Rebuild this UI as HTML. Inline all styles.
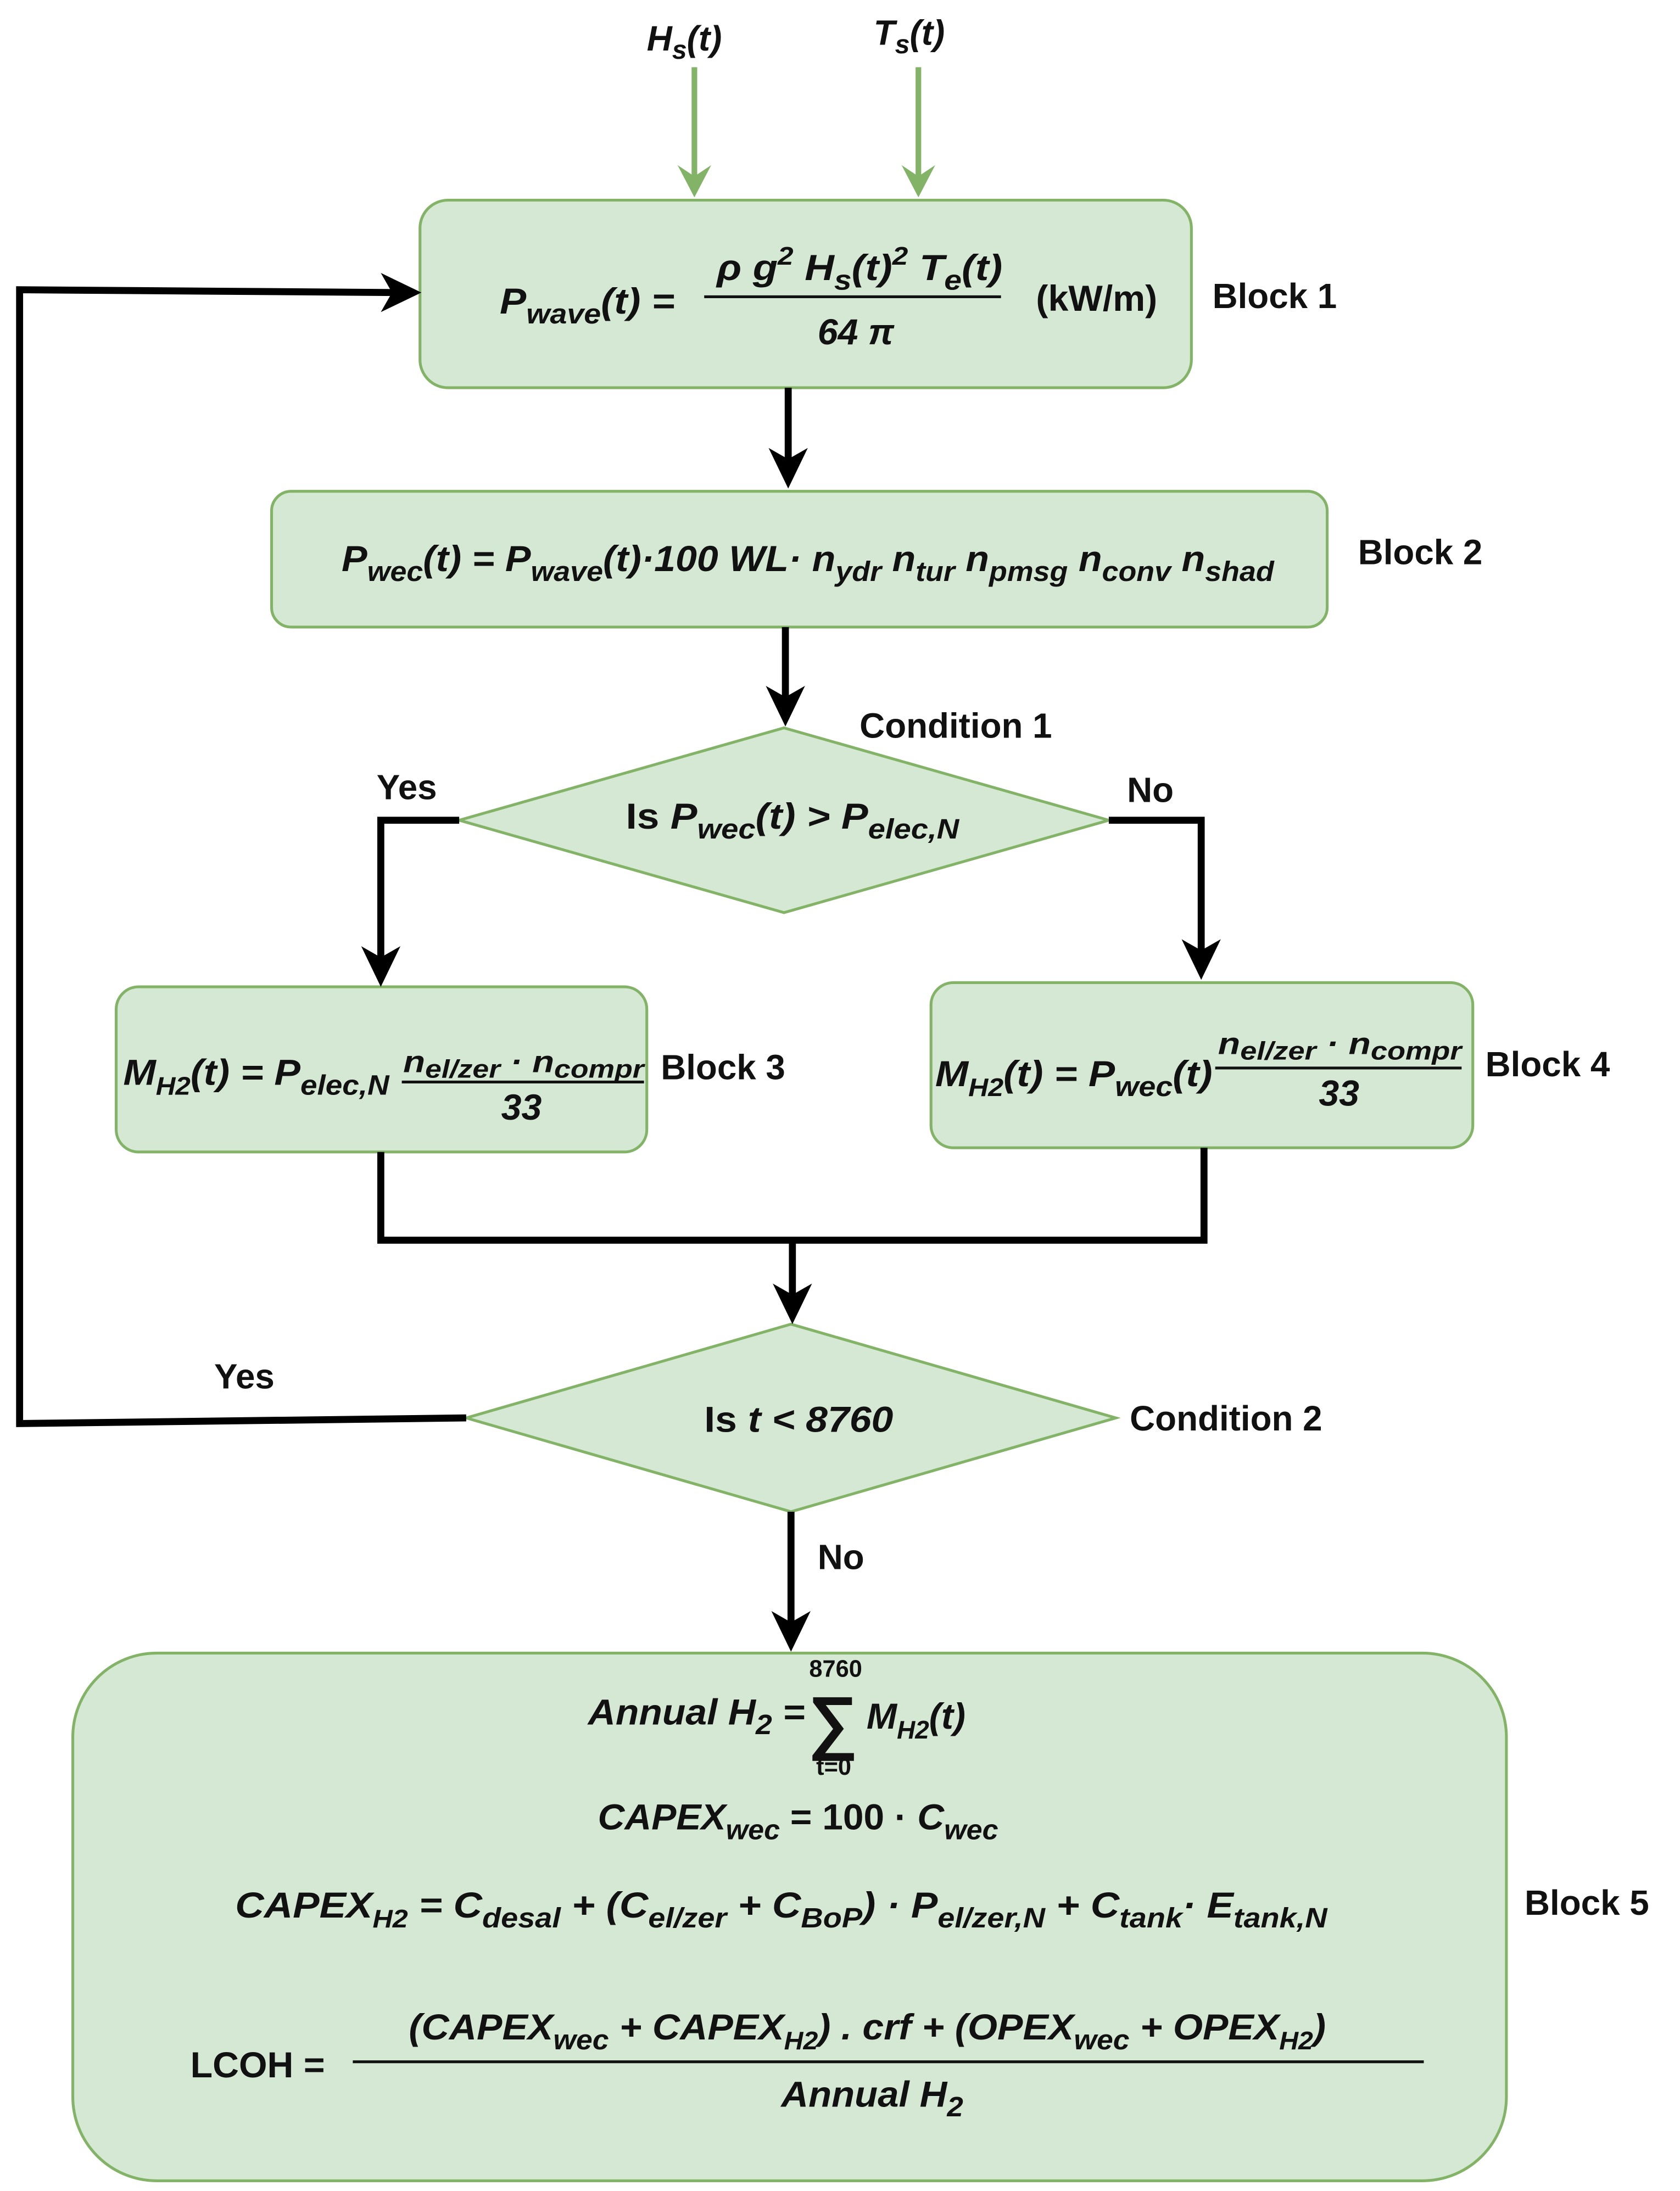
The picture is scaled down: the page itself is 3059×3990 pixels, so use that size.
<!DOCTYPE html>
<html><head><meta charset="utf-8"><style>
html,body{margin:0;padding:0;background:#fff}
svg{display:block}
text{font-family:"Liberation Sans",Arial,sans-serif;font-weight:bold;fill:#111}
.i{font-style:italic}
</style></head><body>
<svg width="3059" height="3990" viewBox="0 0 1200 1565.3" preserveAspectRatio="none" xmlns="http://www.w3.org/2000/svg">
<g fill="#d5e8d4" stroke="#82b366" stroke-width="2">
<rect x="300" y="143" width="551" height="134" rx="20"/>
<rect x="194" y="351" width="754" height="97" rx="14"/>
<polygon points="328,586 560,520 792,586 560,652"/>
<rect x="83" y="705" width="379" height="118" rx="16"/>
<rect x="665" y="702" width="387" height="118" rx="16"/>
<polygon points="333,1013 565,946 797,1013 565,1080"/>
<rect x="52" y="1181" width="1024" height="377" rx="60"/>
</g>
<g stroke="#82b366" stroke-width="4" fill="none">
<line x1="496" y1="48" x2="496" y2="128"/>
<line x1="656" y1="48" x2="656" y2="128"/>
</g>
<g fill="#82b366">
<polygon points="484,118 496,141 508,118 496,126"/>
<polygon points="644,118 656,141 668,118 656,126"/>
</g>
<g stroke="#000" stroke-width="5" fill="none">
<line x1="563" y1="277" x2="563" y2="330"/>
<line x1="561" y1="448" x2="561" y2="500"/>
<polyline points="328,586 272,586 272,685"/>
<polyline points="792,586 858,586 858,680"/>
<polyline points="272,823 272,886 860,886 860,820"/>
<line x1="566" y1="886" x2="566" y2="926"/>
<polyline points="333,1013 14,1017 14,207 282,209"/>
<line x1="565" y1="1080" x2="565" y2="1160"/>
</g>
<g fill="#000">
<polygon points="549,320 563,349 577,320 563,328"/>
<polygon points="547,490 561,519 575,490 561,498"/>
<polygon points="258,676 272,705 286,676 272,684"/>
<polygon points="844,671 858,700 872,671 858,679"/>
<polygon points="552,917 566,946 580,917 566,925"/>
<polygon points="551,1151 565,1180 579,1151 565,1159"/>
<polygon points="272,195 301,209 272,223 280,209"/>
</g>
<g font-size="25">
<text x="462" y="36" class="i">H<tspan font-size="19" dy="6">s</tspan><tspan dy="-6">(t)</tspan></text>
<text x="624" y="32" class="i">T<tspan font-size="19" dy="6">s</tspan><tspan dy="-6">(t)</tspan></text>
<text x="866" y="220">Block 1</text>
<text x="970" y="403">Block 2</text>
<text x="614" y="527">Condition 1</text>
<text x="269" y="571">Yes</text>
<text x="805" y="573">No</text>
<text x="472" y="771">Block 3</text>
<text x="1061" y="769">Block 4</text>
<text x="153" y="992">Yes</text>
<text x="807" y="1022">Condition 2</text>
<text x="584" y="1121">No</text>
<text x="1089" y="1368">Block 5</text>
</g>
<g font-size="26">
<text x="357" y="224" class="i" textLength="125" lengthAdjust="spacingAndGlyphs">P<tspan font-size="20" dy="7">wave</tspan><tspan dy="-7">(t) =</tspan></text>
<text x="512" y="200" class="i" textLength="204" lengthAdjust="spacingAndGlyphs">ρ g<tspan font-size="18" dy="-11">2</tspan><tspan dy="11"> H</tspan><tspan font-size="20" dy="7">s</tspan><tspan dy="-7">(t)</tspan><tspan font-size="18" dy="-11">2</tspan><tspan dy="11"> T</tspan><tspan font-size="20" dy="7">e</tspan><tspan dy="-7">(t)</tspan></text>
<line x1="503" y1="212" x2="715" y2="212" stroke="#111" stroke-width="2"/>
<text x="584" y="246" class="i">64 π</text>
<text x="740" y="222">(kW/m)</text>

<text x="244" y="408" class="i" textLength="666" lengthAdjust="spacingAndGlyphs">P<tspan font-size="20" dy="7">wec</tspan><tspan dy="-7">(t) = P</tspan><tspan font-size="20" dy="7">wave</tspan><tspan dy="-7">(t)·100 WL· n</tspan><tspan font-size="20" dy="7">ydr</tspan><tspan dy="-7"> n</tspan><tspan font-size="20" dy="7">tur</tspan><tspan dy="-7"> n</tspan><tspan font-size="20" dy="7">pmsg</tspan><tspan dy="-7"> n</tspan><tspan font-size="20" dy="7">conv</tspan><tspan dy="-7"> n</tspan><tspan font-size="20" dy="7">shad</tspan></text>

<text x="447" y="592" textLength="238" lengthAdjust="spacingAndGlyphs">Is  <tspan class="i">P</tspan><tspan class="i" font-size="20" dy="7">wec</tspan><tspan class="i" dy="-7">(t) &gt; P</tspan><tspan class="i" font-size="20" dy="7">elec,N</tspan></text>

<text x="503" y="1023" textLength="135" lengthAdjust="spacingAndGlyphs">Is  <tspan class="i">t &lt; 8760</tspan></text>

<text x="88" y="775" class="i" textLength="190" lengthAdjust="spacingAndGlyphs">M<tspan font-size="18" dy="7">H2</tspan><tspan dy="-7">(t) = P</tspan><tspan font-size="20" dy="7">elec,N</tspan></text>
<text x="288" y="766" class="i" font-size="22" textLength="172" lengthAdjust="spacingAndGlyphs">n<tspan font-size="18" dy="4">el/zer</tspan><tspan dy="-4"> · n</tspan><tspan font-size="18" dy="4">compr</tspan></text>
<line x1="287" y1="773" x2="460" y2="773" stroke="#111" stroke-width="2"/>
<text x="358" y="800" class="i">33</text>

<text x="668" y="776" class="i" textLength="198" lengthAdjust="spacingAndGlyphs">M<tspan font-size="18" dy="7">H2</tspan><tspan dy="-7">(t) =  P</tspan><tspan font-size="20" dy="7">wec</tspan><tspan dy="-7">(t)</tspan></text>
<text x="870" y="753" class="i" font-size="22" textLength="174" lengthAdjust="spacingAndGlyphs">n<tspan font-size="18" dy="4">el/zer</tspan><tspan dy="-4"> · n</tspan><tspan font-size="18" dy="4">compr</tspan></text>
<line x1="868" y1="763" x2="1044" y2="763" stroke="#111" stroke-width="2"/>
<text x="942" y="790" class="i">33</text>

<text x="420" y="1232" class="i" textLength="155" lengthAdjust="spacingAndGlyphs">Annual H<tspan font-size="20" dy="7">2</tspan><tspan dy="-7"> =</tspan></text>
<text x="578" y="1198" font-size="17">8760</text>
<text x="577" y="1247" font-size="50">∑</text>
<text x="583" y="1268" font-size="17">t=0</text>
<text x="619" y="1235" class="i">M<tspan font-size="18" dy="7">H2</tspan><tspan dy="-7">(t)</tspan></text>

<text x="427" y="1307" class="i" textLength="286" lengthAdjust="spacingAndGlyphs">CAPEX<tspan font-size="20" dy="7">wec</tspan><tspan dy="-7" font-style="normal"> = 100 · </tspan>C<tspan font-size="20" dy="7">wec</tspan></text>

<text x="168" y="1370" class="i" textLength="780" lengthAdjust="spacingAndGlyphs">CAPEX<tspan font-size="18" dy="7">H2</tspan><tspan dy="-7">  = C</tspan><tspan font-size="20" dy="7">desal</tspan><tspan dy="-7"> + (C</tspan><tspan font-size="20" dy="7">el/zer</tspan><tspan dy="-7"> + C</tspan><tspan font-size="20" dy="7">BoP</tspan><tspan dy="-7">) · P</tspan><tspan font-size="20" dy="7">el/zer,N</tspan><tspan dy="-7">   +  C</tspan><tspan font-size="20" dy="7">tank</tspan><tspan dy="-7">· E</tspan><tspan font-size="20" dy="7">tank,N</tspan></text>

<text x="136" y="1484">LCOH  =</text>
<text x="292" y="1457" class="i" textLength="655" lengthAdjust="spacingAndGlyphs">(CAPEX<tspan font-size="20" dy="7">wec</tspan><tspan dy="-7">  + CAPEX</tspan><tspan font-size="18" dy="7">H2</tspan><tspan dy="-7">) . crf + (OPEX</tspan><tspan font-size="20" dy="7">wec</tspan><tspan dy="-7"> + OPEX</tspan><tspan font-size="18" dy="7">H2</tspan><tspan dy="-7">)</tspan></text>
<line x1="252" y1="1473" x2="1017" y2="1473" stroke="#111" stroke-width="2"/>
<text x="558" y="1505" class="i" textLength="130" lengthAdjust="spacingAndGlyphs">Annual H<tspan font-size="20" dy="7">2</tspan></text>
</g>
</svg>
</body></html>
